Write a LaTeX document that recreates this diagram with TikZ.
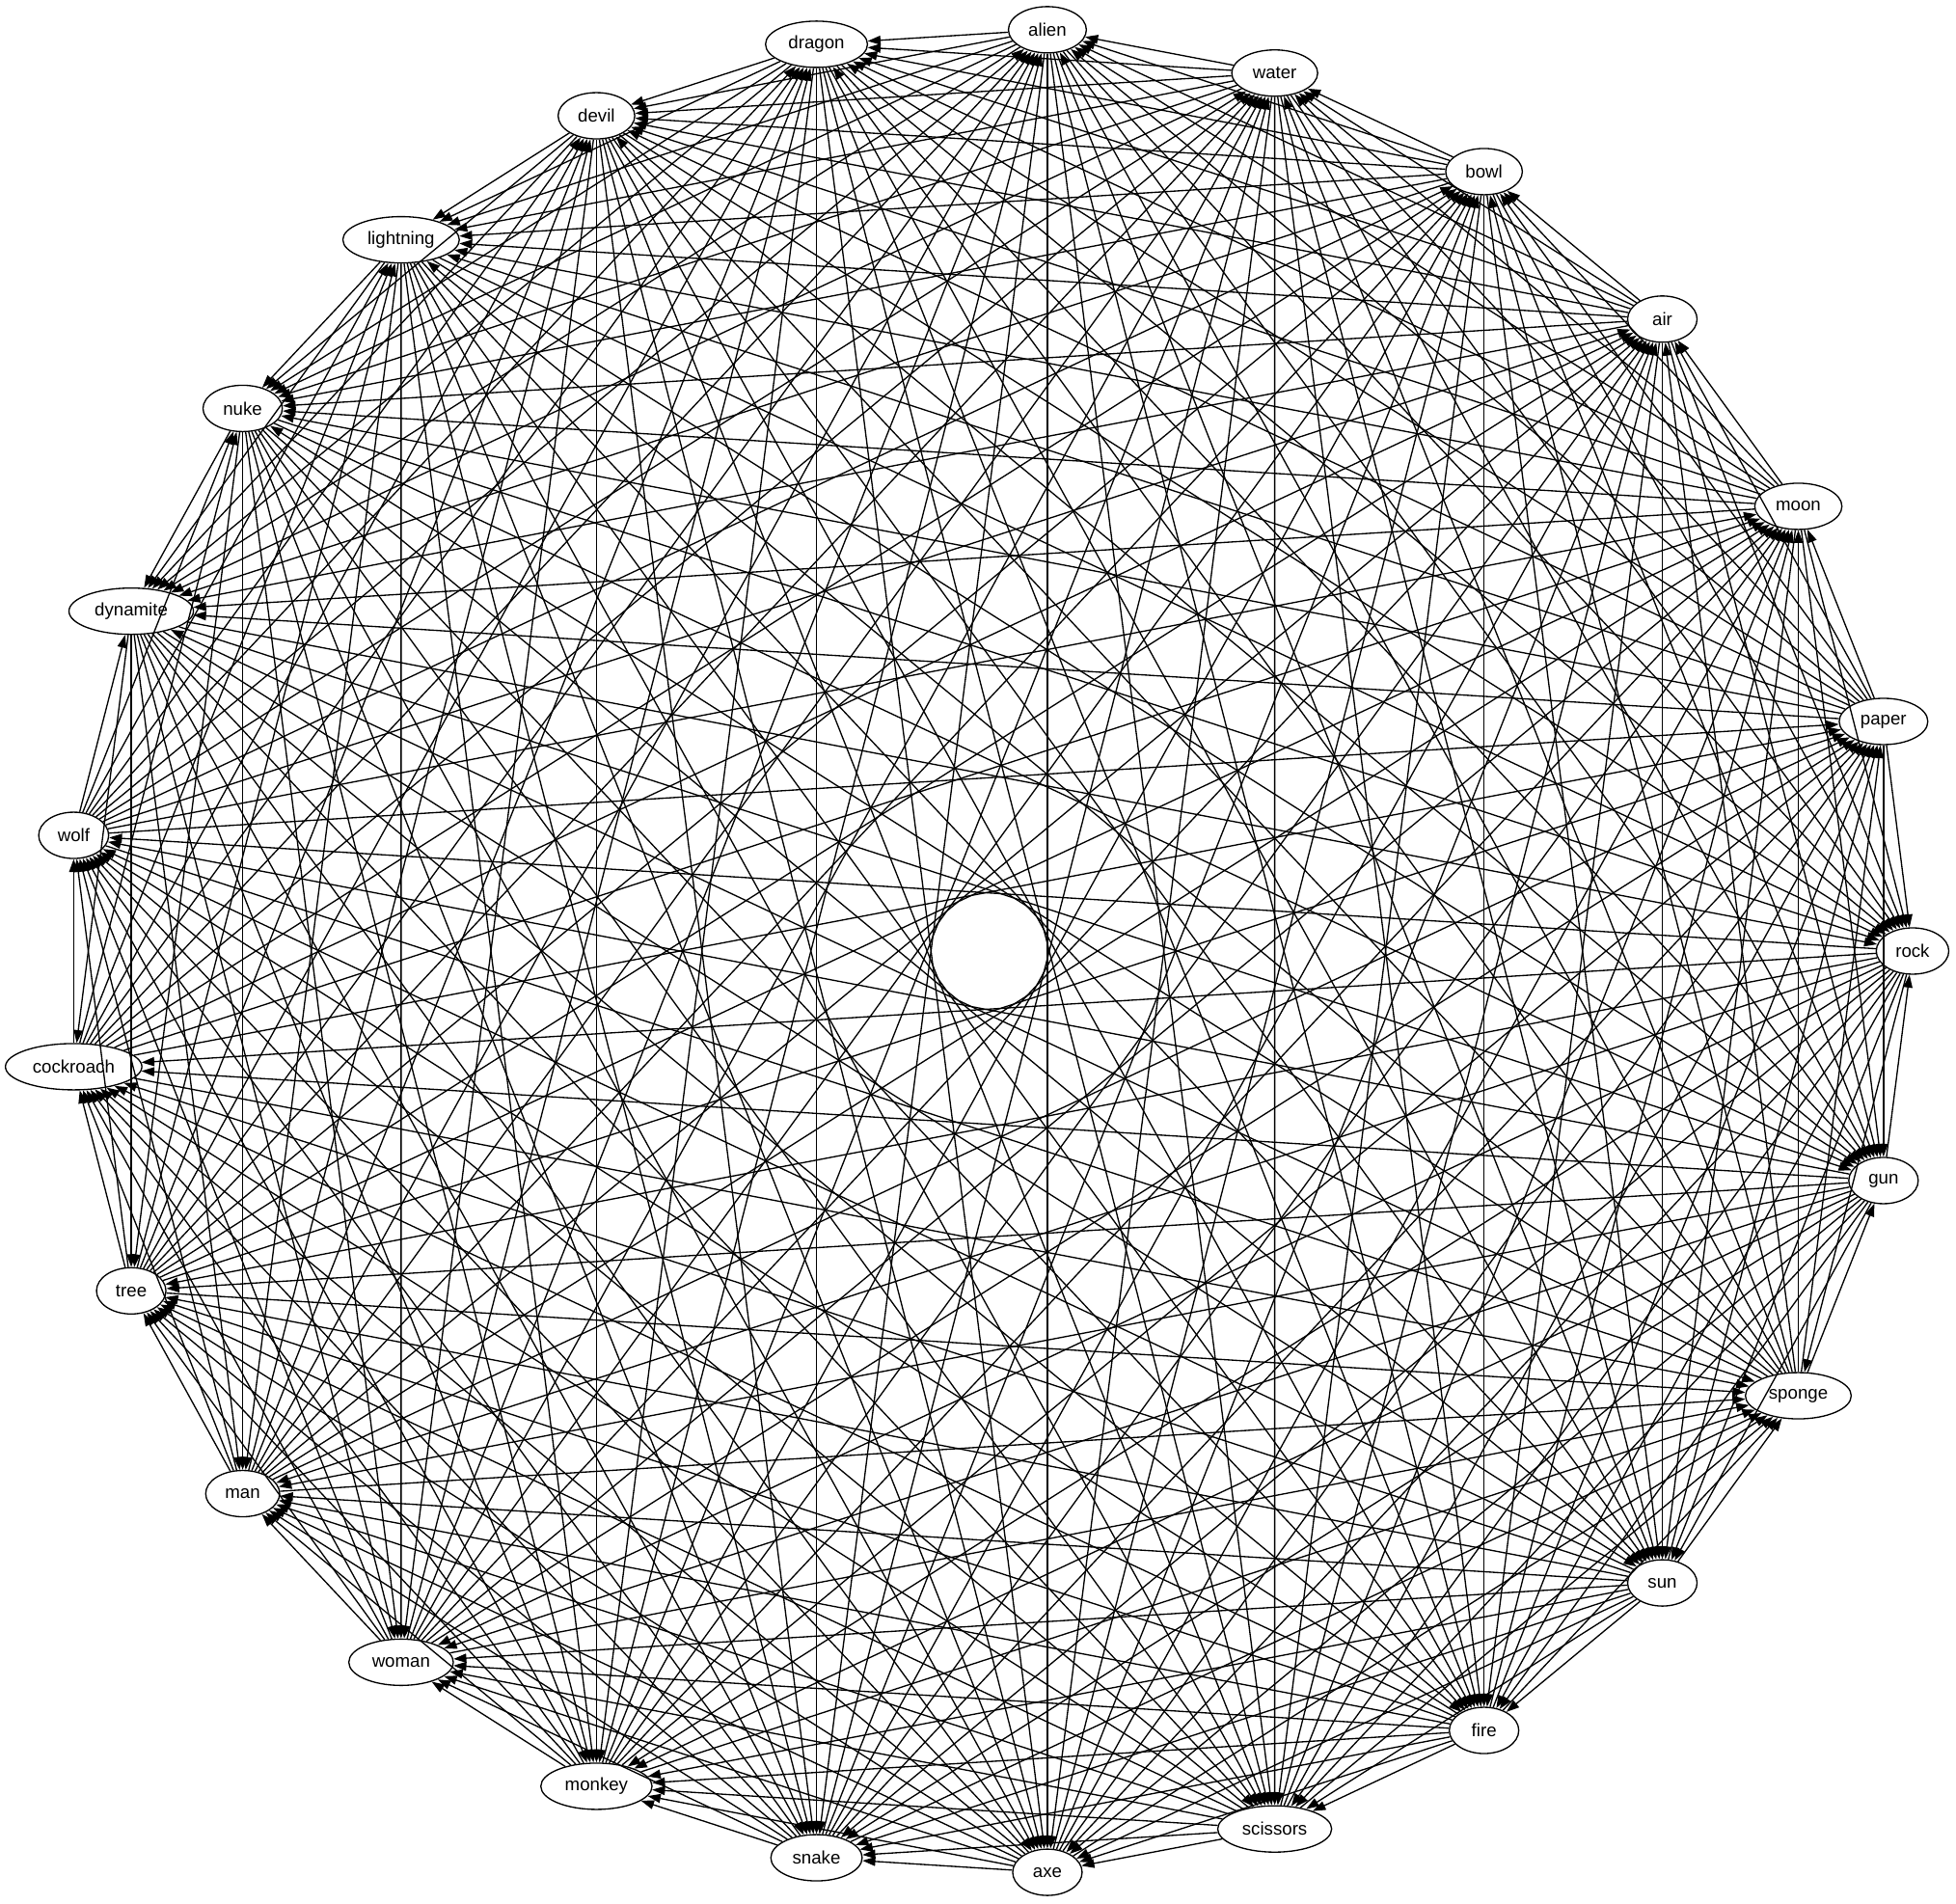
\documentclass[tikz,border=0pt]{standalone}
\usepackage{fontspec}
\setmainfont{Liberation Sans}
\usetikzlibrary{shapes.geometric,arrows.meta}
\begin{document}
\begin{tikzpicture}[x=1pt,y=1pt,
  nd/.style={draw, ellipse, line width=1pt, minimum height=36pt, inner sep=0pt, font=\fontsize{14}{16}\selectfont},
  edge/.style={line width=1pt, -{Triangle[length=10pt,width=7pt]}}]
\useasboundingbox (0,0) rectangle (1521,1480.5);
\begin{scope}[shift={(769.4,741)}]
\foreach \idx/\pos/\lab/\w in {0/6/rock/56.4, 1/9/sun/54, 2/10/fire/54, 3/11/scissors/88.6, 4/12/axe/54, 5/13/snake/71, 6/14/monkey/86.5, 7/15/woman/81.3, 8/16/man/57.5, 9/17/tree/54, 10/18/cockroach/106.1, 11/19/wolf/54.4, 12/8/sponge/82.3, 13/5/paper/68.9, 14/4/moon/67.8, 15/3/air/54, 16/2/bowl/59.6, 17/1/water/66.8, 18/0/alien/60.6, 19/24/dragon/79.3, 20/23/devil/59.6, 21/22/lightning/90.6, 22/21/nuke/61.7, 23/20/dynamite/96.8, 24/7/gun/54} {
  \node[nd, minimum width=\w pt] (n\idx) at ({86.4-14.4*\pos}:717.8) {\lab};
}
\foreach \i in {0,...,24} {
  \foreach \k in {1,...,12} {
    \pgfmathtruncatemacro{\j}{mod(\i+\k,25)}
    \draw[edge] (n\i) -- (n\j);
  }
}
\end{scope}
\end{tikzpicture}
\end{document}
